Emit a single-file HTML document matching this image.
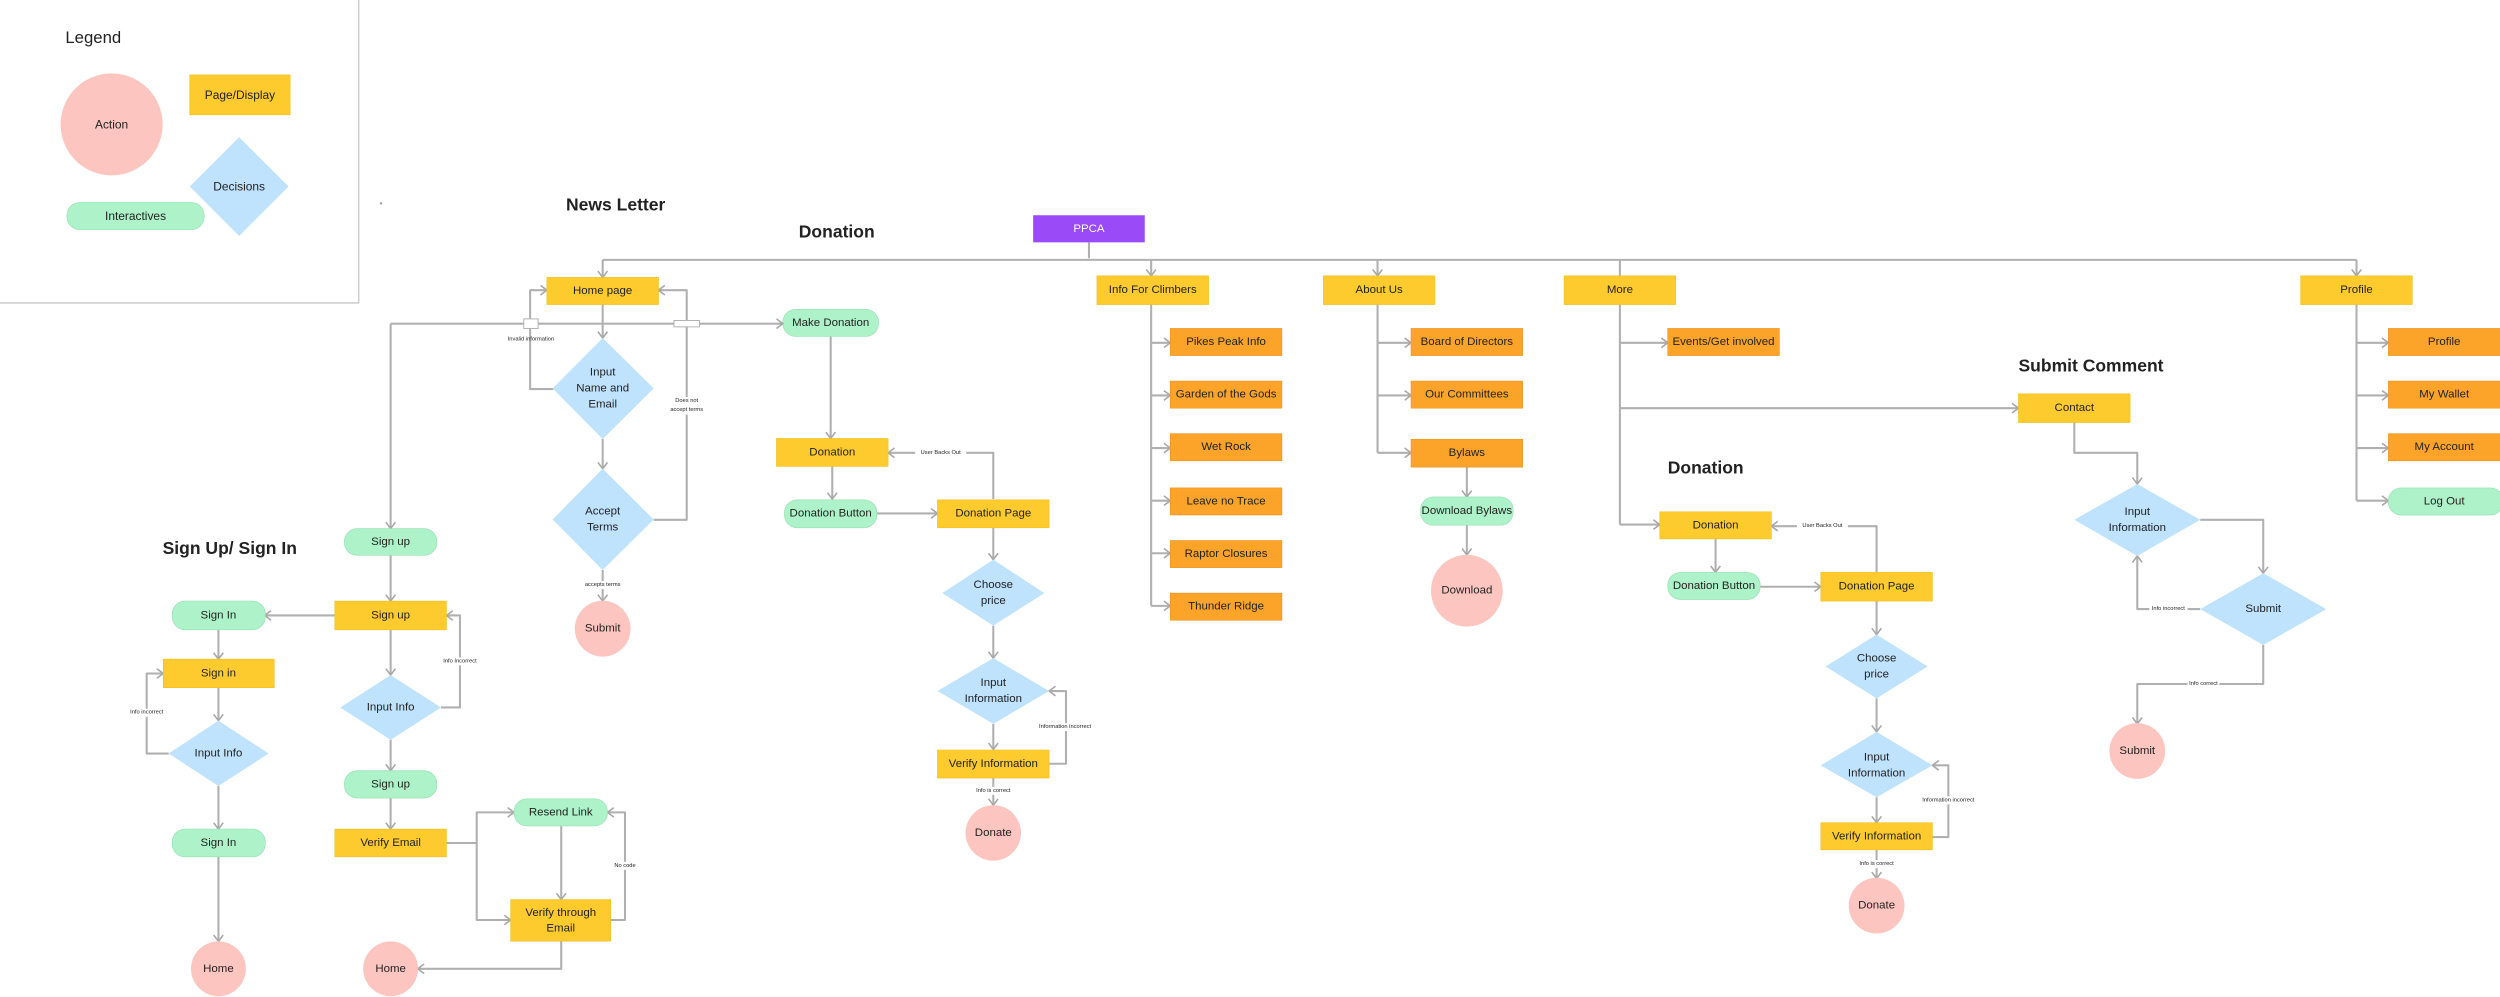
<!DOCTYPE html>
<html><head><meta charset="utf-8"><style>
html,body{margin:0;padding:0;background:#fff;width:2500px;height:997px;overflow:hidden}
svg{display:block}
text{font-family:"Liberation Sans",sans-serif;fill:#222}
.n{font-size:7.2px;text-anchor:middle;dominant-baseline:central}
.s{font-size:3.6px;text-anchor:middle;dominant-baseline:central}
.t{font-size:11px;font-weight:bold}
.l{fill:none;stroke:#b0b0b0;stroke-width:1.3;stroke-linejoin:round}
.a{marker-end:url(#ar)}
.y{fill:#fdcb2e;stroke:#f0c020;stroke-width:.4}
.o{fill:#fca42a;stroke:#e8952a;stroke-width:.4}
.g{fill:#adf2c8;stroke:#98e0b4;stroke-width:.4}
.p{fill:#fdc5c0}
.d{fill:#bfe2fd}
.lb{fill:#fff}
</style></head><body>
<svg width="2500" height="997" viewBox="0 0 1568 625.3" preserveAspectRatio="none" xmlns="http://www.w3.org/2000/svg">
<defs><marker id="ar" markerUnits="userSpaceOnUse" markerWidth="8" markerHeight="8" refX="5" refY="3.5" orient="auto"><path d="M1,0.5 L5,3.5 L1,6.5" fill="none" stroke="#a8a8a8" stroke-width="1"/></marker></defs>

<!-- Legend -->
<path d="M0,190 H225 V0" fill="none" stroke="#c8c8c8" stroke-width=".8"/>
<text x="41" y="27" style="font-size:10.5px">Legend</text>
<circle cx="70" cy="78" r="32" class="p"/><text x="70" y="78" class="n" style="font-size:7.5px">Action</text>
<rect x="119" y="47" width="63" height="25" class="y"/><text x="150.5" y="59.5" class="n" style="font-size:7.5px">Page/Display</text>
<polygon points="150,86 181,117 150,148 119,117" class="d"/><text x="150" y="117" class="n" style="font-size:7.5px">Decisions</text>
<rect x="42" y="127" width="86" height="17" rx="8" class="g"/><text x="85" y="135.5" class="n" style="font-size:7.5px">Interactives</text>
<circle cx="239" cy="127.5" r=".8" fill="#aaa"/>

<!-- Titles -->
<text x="355" y="132" class="t">News Letter</text>
<text x="501" y="149" class="t">Donation</text>
<text x="102" y="347.5" class="t">Sign Up/ Sign In</text>
<text x="1266" y="233" class="t">Submit Comment</text>
<text x="1046" y="297" class="t">Donation</text>

<!-- Top bus -->
<path class="l" d="M683,152 V162 M378,163 H1478"/>
<path class="l a" d="M378,163 V174"/>
<path class="l a" d="M722,163 V173"/>
<path class="l a" d="M864,163 V173"/>
<path class="l" d="M1016,163 V173"/>
<path class="l a" d="M1478,163 V173"/>
<rect x="648" y="135" width="70" height="17" fill="#9a4bf7"/><text x="683" y="143.5" class="n" style="fill:#fff">PPCA</text>

<!-- Info for climbers -->
<path class="l" d="M722,191 V380"/>
<path class="l a" d="M722,215 H734"/><path class="l a" d="M722,248 H734"/><path class="l a" d="M722,281 H734"/>
<path class="l a" d="M722,314 H734"/><path class="l a" d="M722,347 H734"/><path class="l a" d="M722,380 H734"/>
<rect x="688" y="173" width="70" height="18" class="y"/><text x="723" y="182" class="n">Info For Climbers</text>
<rect x="734" y="206" width="70" height="17" class="o"/><text x="769" y="214.5" class="n">Pikes Peak Info</text>
<rect x="734" y="239" width="70" height="17" class="o"/><text x="769" y="247.5" class="n">Garden of the Gods</text>
<rect x="734" y="272" width="70" height="17" class="o"/><text x="769" y="280.5" class="n">Wet Rock</text>
<rect x="734" y="306" width="70" height="17" class="o"/><text x="769" y="314.5" class="n">Leave no Trace</text>
<rect x="734" y="339" width="70" height="17" class="o"/><text x="769" y="347.5" class="n">Raptor Closures</text>
<rect x="734" y="372" width="70" height="17" class="o"/><text x="769" y="380.5" class="n">Thunder Ridge</text>

<!-- About -->
<path class="l" d="M864,191 V284"/>
<path class="l a" d="M864,215 H885"/><path class="l a" d="M864,248 H885"/><path class="l a" d="M864,284 H885"/>
<path class="l a" d="M920,293 V311.7"/><path class="l a" d="M920,329.4 V348"/>
<rect x="830" y="173" width="70" height="18" class="y"/><text x="865" y="182" class="n">About Us</text>
<rect x="885" y="206" width="70" height="17" class="o"/><text x="920" y="214.5" class="n">Board of Directors</text>
<rect x="885" y="239" width="70" height="17" class="o"/><text x="920" y="247.5" class="n">Our Committees</text>
<rect x="885" y="275.5" width="70" height="17.5" class="o"/><text x="920" y="284.2" class="n">Bylaws</text>
<rect x="891" y="311.7" width="58" height="17.7" rx="8" class="g"/><text x="920" y="320.5" class="n">Download Bylaws</text>
<circle cx="920" cy="370.5" r="22.5" class="p"/><text x="920" y="370.5" class="n">Download</text>

<!-- More -->
<path class="l" d="M1016,191 V329"/>
<path class="l a" d="M1016,215 H1046"/><path class="l a" d="M1016,256 H1266"/><path class="l a" d="M1016,329 H1041"/>
<rect x="981" y="173" width="70" height="18" class="y"/><text x="1016" y="182" class="n">More</text>
<rect x="1046" y="206" width="70" height="17" class="o"/><text x="1081" y="214.5" class="n">Events/Get involved</text>

<!-- Submit comment -->
<path class="l a" d="M1301,265 V284 H1340.5 V303.6"/>
<path class="l a" d="M1380,326 H1419.5 V359.5"/>
<path class="l a" d="M1380,382 H1340.5 V348.7"/>
<rect x="1348" y="379.5" width="24" height="5" class="lb"/><text x="1360" y="382" class="s">Info incorrect</text>
<path class="l a" d="M1419.5,404.5 V429 H1340.5 V454"/>
<rect x="1372" y="426.5" width="20" height="5" class="lb"/><text x="1382" y="429" class="s">Info correct</text>
<rect x="1266" y="247" width="70" height="18" class="y"/><text x="1301" y="256" class="n">Contact</text>
<polygon points="1340.5,303.6 1380,326 1340.5,348.7 1301,326" class="d"/><text x="1340.5" y="321" class="n">Input</text><text x="1340.5" y="331" class="n">Information</text>
<polygon points="1419.5,359.5 1459,382 1419.5,404.5 1380,382" class="d"/><text x="1419.5" y="382" class="n">Submit</text>
<circle cx="1340.5" cy="471" r="17.5" class="p"/><text x="1340.5" y="471" class="n">Submit</text>

<!-- Profile -->
<path class="l" d="M1478,191 V314"/>
<path class="l a" d="M1478,215 H1498"/><path class="l a" d="M1478,248 H1498"/><path class="l a" d="M1478,281 H1498"/><path class="l a" d="M1478,314 H1498"/>
<rect x="1443" y="173" width="70" height="18" class="y"/><text x="1478" y="182" class="n">Profile</text>
<rect x="1498" y="206" width="72" height="17" class="o"/><text x="1533" y="214.5" class="n">Profile</text>
<rect x="1498" y="239" width="72" height="17" class="o"/><text x="1533" y="247.5" class="n">My Wallet</text>
<rect x="1498" y="272" width="72" height="17" class="o"/><text x="1533" y="280.5" class="n">My Account</text>
<rect x="1498" y="306" width="72" height="17" rx="8" class="g"/><text x="1533" y="314.5" class="n">Log Out</text>

<!-- Donation 2 -->
<path class="l a" d="M1076,338 V359"/>
<path class="l a" d="M1104,368 H1142"/>
<path class="l a" d="M1177,359 V330 H1111"/>
<rect x="1127" y="327.5" width="32" height="5" class="lb"/><text x="1143" y="330" class="s">User Backs Out</text>
<path class="l a" d="M1177,377 V398"/>
<path class="l a" d="M1177,438 V459"/>
<path class="l a" d="M1177,500 V516"/>
<path class="l a" d="M1212,525 H1222 V480 H1212"/>
<rect x="1200" y="499.5" width="44" height="5" class="lb"/><text x="1222" y="502" class="s">Information incorrect</text>
<path class="l a" d="M1177,533 V551"/>
<rect x="1163" y="539.5" width="28" height="5" class="lb"/><text x="1177" y="542" class="s">Info is correct</text>
<rect x="1041" y="321" width="70" height="17" class="y"/><text x="1076" y="329.5" class="n">Donation</text>
<rect x="1046" y="359" width="58" height="17" rx="8" class="g"/><text x="1075" y="367.5" class="n">Donation Button</text>
<rect x="1142" y="359" width="70" height="18" class="y"/><text x="1177" y="368" class="n">Donation Page</text>
<polygon points="1177,398 1209,418 1177,438 1145,418" class="d"/><text x="1177" y="413" class="n">Choose</text><text x="1177" y="423" class="n">price</text>
<polygon points="1177,459 1212,480 1177,500 1142,480" class="d"/><text x="1177" y="475" class="n">Input</text><text x="1177" y="485" class="n">Information</text>
<rect x="1142" y="516" width="70" height="17" class="y"/><text x="1177" y="524.5" class="n">Verify Information</text>
<circle cx="1177" cy="568" r="17.5" class="p"/><text x="1177" y="568" class="n">Donate</text>

<!-- Donation 1 -->
<path class="l a" d="M521,211 V275"/>
<path class="l a" d="M522,292 V313"/>
<path class="l a" d="M550,322 H588"/>
<path class="l a" d="M623,313 V284 H557"/>
<rect x="574" y="281.5" width="32" height="5" class="lb"/><text x="590" y="284" class="s">User Backs Out</text>
<path class="l a" d="M623,331 V351"/>
<path class="l a" d="M623,392.4 V412.8"/>
<path class="l a" d="M623,454 V470"/>
<path class="l a" d="M658,479 H668.6 V433.4 H658"/>
<rect x="646" y="453.5" width="44" height="5" class="lb"/><text x="668" y="456" class="s">Information incorrect</text>
<path class="l a" d="M623,488 V505"/>
<rect x="609" y="493.5" width="28" height="5" class="lb"/><text x="623" y="496" class="s">Info is correct</text>
<rect x="491" y="194" width="60" height="17" rx="8" class="g"/><text x="521" y="202.5" class="n">Make Donation</text>
<rect x="487" y="275" width="70" height="17.5" class="y"/><text x="522" y="283.7" class="n">Donation</text>
<rect x="492" y="313.5" width="58" height="17.5" rx="8" class="g"/><text x="521" y="322.2" class="n">Donation Button</text>
<rect x="588" y="313.5" width="70" height="17.5" class="y"/><text x="623" y="322.2" class="n">Donation Page</text>
<polygon points="623,351 655,372 623,392.4 591,372" class="d"/><text x="623" y="367" class="n">Choose</text><text x="623" y="377" class="n">price</text>
<polygon points="623,412.8 658,433.4 623,454 588,433.4" class="d"/><text x="623" y="428.4" class="n">Input</text><text x="623" y="438.4" class="n">Information</text>
<rect x="588" y="470.4" width="70" height="17.6" class="y"/><text x="623" y="479.2" class="n">Verify Information</text>
<circle cx="623" cy="522.4" r="17.4" class="p"/><text x="623" y="522.4" class="n">Donate</text>

<!-- Newsletter -->
<path class="l a" d="M378,191 V212"/>
<path class="l a" d="M378,275.3 V294"/>
<path class="l a" d="M378,357.5 V377"/>
<rect x="364" y="364.5" width="28" height="5" class="lb"/><text x="378" y="367" class="s">accepts terms</text>
<path class="l a" d="M347,244 H332.5 V182 H343"/>
<path class="l a" d="M410,326 H430.7 V182 H413"/>
<path class="l a" d="M245,203 H491"/>
<path class="l a" d="M245,203 V331.5"/>
<rect x="328.5" y="200" width="9" height="6" fill="#fff" stroke="#b0b0b0" stroke-width=".6"/>
<rect x="422.7" y="201" width="16" height="4" fill="#fff" stroke="#b0b0b0" stroke-width=".6"/>
<text x="333" y="213" class="s">Invalid information</text>
<rect x="418" y="249" width="25" height="11" class="lb"/>
<text x="430.7" y="251.5" class="s">Does not</text><text x="430.7" y="257" class="s">accept terms</text>
<rect x="343" y="174" width="70" height="17" class="y"/><text x="378" y="182.5" class="n">Home page</text>
<polygon points="378,212 410,243.6 378,275.3 346.6,243.6" class="d"/><text x="378" y="233.6" class="n">Input</text><text x="378" y="243.6" class="n">Name and</text><text x="378" y="253.6" class="n">Email</text>
<polygon points="378,294 410,325.8 378,357.5 346.6,325.8" class="d"/><text x="378" y="320.8" class="n">Accept</text><text x="378" y="330.8" class="n">Terms</text>
<circle cx="378" cy="394.3" r="17.5" class="p"/><text x="378" y="394.3" class="n">Submit</text>

<!-- Sign up -->
<path class="l a" d="M245,348.3 V377"/>
<path class="l a" d="M210,386 H166"/>
<path class="l a" d="M245,395 V423.4"/>
<path class="l a" d="M276.6,443.7 H288.5 V386 H280"/>
<rect x="276" y="412.3" width="26" height="5" class="lb"/><text x="288.5" y="414.8" class="s">Info Incorrect</text>
<path class="l a" d="M245,464 V483.4"/>
<path class="l a" d="M245,500.5 V520"/>
<path class="l a" d="M280,528.7 H299 V509.5 H322.4"/>
<path class="l a" d="M299,528.7 V577 H320.3"/>
<path class="l a" d="M352,518 V564.2"/>
<path class="l a" d="M383,577 H392 V509.5 H381"/>
<rect x="384" y="540.5" width="16" height="5" class="lb"/><text x="392" y="543" class="s">No code</text>
<path class="l a" d="M352,590.3 V607.6 H262"/>
<rect x="216" y="331.5" width="58" height="16.8" rx="8" class="g"/><text x="245" y="340" class="n">Sign up</text>
<rect x="210" y="377" width="70" height="18" class="y"/><text x="245" y="386" class="n">Sign up</text>
<polygon points="245,423.4 276.6,443.7 245,464 213.4,443.7" class="d"/><text x="245" y="443.7" class="n">Input Info</text>
<rect x="216" y="483.4" width="58" height="17.1" rx="8" class="g"/><text x="245" y="492" class="n">Sign up</text>
<rect x="210" y="520" width="70" height="17.4" class="y"/><text x="245" y="528.7" class="n">Verify Email</text>
<rect x="322.4" y="501" width="58.6" height="17" rx="8" class="g"/><text x="351.7" y="509.5" class="n">Resend Link</text>
<rect x="320.3" y="564.2" width="62.7" height="26.1" class="y"/><text x="351.7" y="572.5" class="n">Verify through</text><text x="351.7" y="582.5" class="n">Email</text>
<circle cx="245" cy="607.6" r="17.2" class="p"/><text x="245" y="607.6" class="n">Home</text>

<!-- Sign in -->
<path class="l a" d="M137,395 V413.4"/>
<path class="l a" d="M137,431.3 V452"/>
<path class="l a" d="M105.8,472.6 H92 V422.4 H102.4"/>
<rect x="79" y="444.5" width="26" height="5" class="lb"/><text x="92" y="447" class="s">Info incorrect</text>
<path class="l a" d="M137,493 V520"/>
<path class="l a" d="M137,537.4 V590.4"/>
<rect x="108" y="377" width="58.4" height="18" rx="8" class="g"/><text x="137" y="386" class="n">Sign In</text>
<rect x="102.4" y="413.4" width="69.6" height="17.9" class="y"/><text x="137" y="422.4" class="n">Sign in</text>
<polygon points="137,452 168.5,472.6 137,493 105.8,472.6" class="d"/><text x="137" y="472.6" class="n">Input Info</text>
<rect x="108" y="520" width="58.4" height="17.4" rx="8" class="g"/><text x="137" y="528.7" class="n">Sign In</text>
<circle cx="137" cy="607.6" r="17.2" class="p"/><text x="137" y="607.6" class="n">Home</text>
</svg>
</body></html>
